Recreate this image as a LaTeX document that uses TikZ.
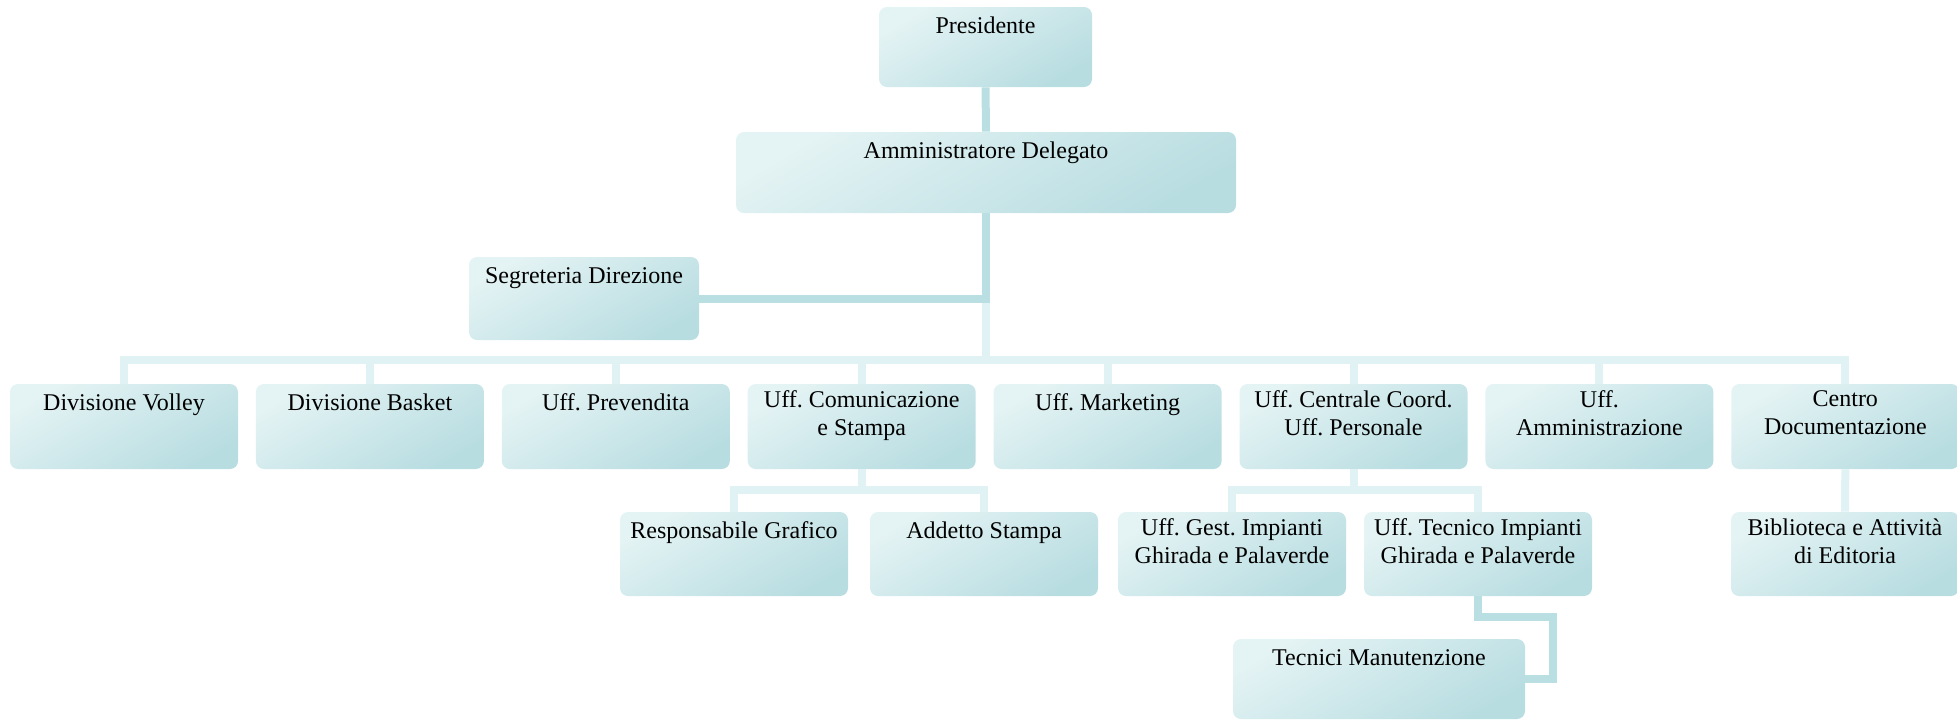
\documentclass[tikz,border=0pt]{standalone}
\usepackage{fontspec}
\setmainfont{Liberation Serif}
\usepackage{tikz}
\definecolor{boxlight}{HTML}{E4F3F4}
\definecolor{boxdark}{HTML}{B8DDE1}
\definecolor{linedark}{HTML}{B9DFE2}
\definecolor{linelight}{HTML}{E0F2F3}
\tikzset{
  box/.style={shade, top color=boxlight, middle color=boxlight!88!boxdark,
    bottom color=boxdark, shading angle=30, rounded corners=4pt,
    inner sep=0pt, minimum width=114pt, minimum height=42.5pt},
  boxtext/.style={anchor=north, inner sep=0pt, yshift=-3.2pt, align=center,
    font=\fontsize{12}{14}\selectfont\frenchspacing, execute at begin node=\strut},
  darkline/.style={draw=linedark, line width=4pt},
  lightline/.style={draw=linelight, line width=4pt}}

\begin{document}
\begin{tikzpicture}[x=0.5pt,y=-0.5pt]
\useasboundingbox (0,0) rectangle (1957,720);
% top
\node[box, minimum width=106.5pt, minimum height=40pt,
  label={[boxtext]north:Presidente}] (pres) at (985.5,47) {};
\node[box, minimum width=250pt, minimum height=40.5pt,
  label={[boxtext]north:Amministratore Delegato}] (ad) at (986,172.5) {};
\node[box, minimum width=115pt, minimum height=41.5pt,
  label={[boxtext]north:Segreteria Direzione}] (seg) at (584,298.5) {};
% second level
\foreach \name/\txt [count=\i from 0] in {
  volley/Divisione Volley, basket/Divisione Basket, prev/Uff. Prevendita,
  comm/{Uff. Comunicazione\\e Stampa}, mkt/Uff. Marketing,
  centr/{Uff. Centrale Coord.\\Uff. Personale}, amm/{Uff.\\Amministrazione},
  doc/{Centro\\Documentazione}}
  \node[box, label={[boxtext]north:\txt}] (\name) at (124+245.9*\i,426.5) {};
% third level
\node[box, minimum height=42pt, label={[boxtext]north:Responsabile Grafico}] (resp) at (734,554) {};
\node[box, minimum height=42pt, label={[boxtext]north:Addetto Stampa}] (addetto) at (984,554) {};
\node[box, minimum height=42pt, label={[boxtext]north:{Uff. Gest. Impianti\\Ghirada e Palaverde}}] (gest) at (1232,554) {};
\node[box, minimum height=42pt, label={[boxtext]north:{Uff. Tecnico Impianti\\Ghirada e Palaverde}}] (tec) at (1478,554) {};
\node[box, minimum height=42pt, label={[boxtext]north:{Biblioteca e Attivit\`a\\di Editoria}}] (bib) at (1845,554) {};
\node[box, minimum width=146pt, minimum height=40pt,
  label={[boxtext]north:Tecnici Manutenzione}] (tecnici) at (1379,679) {};

% connectors
\draw[darkline] (pres.south) -- (ad.north);
\draw[lightline] (ad.south) -- ++(0,147);
\draw[darkline] (ad.south) |- (seg.east);
\draw[lightline] (volley.north) -- ++(0,-24) -| (doc.north);
\foreach \name in {basket,prev,comm,mkt,centr,amm}
  \draw[lightline] (\name.north) -- ++(0,-24);
\draw[lightline] (resp.north) -- ++(0,-22) -| (addetto.north);
\draw[lightline] (comm.south) -- ++(0,21);
\draw[lightline] (gest.north) -- ++(0,-22) -| (tec.north);
\draw[lightline] (centr.south) -- ++(0,21);
\draw[lightline] (doc.south) -- (bib.north);
\draw[darkline] (tec.south) |- ++(75,21) |- (tecnici.east);
\end{tikzpicture}
\end{document}
